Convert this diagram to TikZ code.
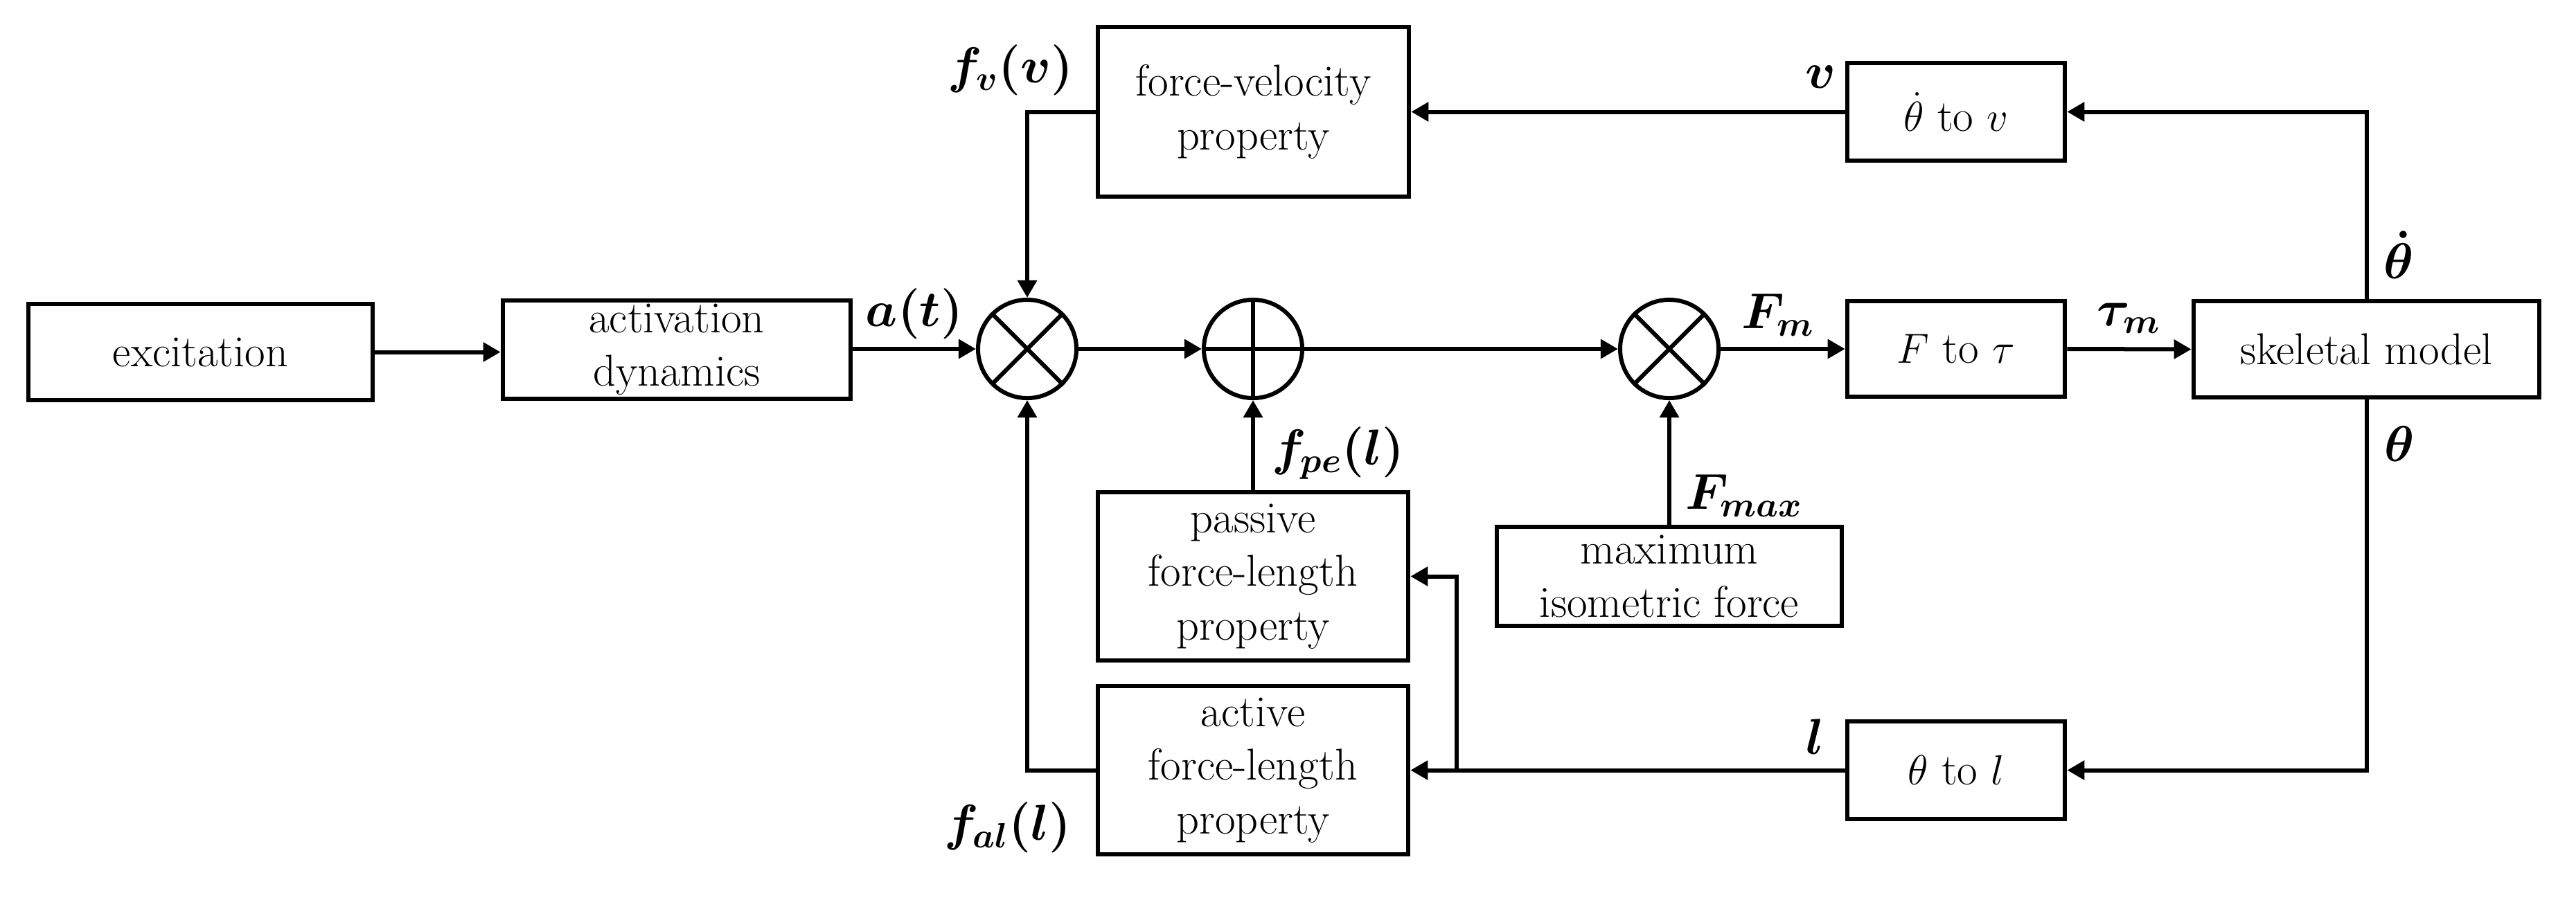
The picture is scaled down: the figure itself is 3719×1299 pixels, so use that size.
\documentclass[tikz,border=0pt]{standalone}
\usetikzlibrary{arrows.meta,calc}
\begin{document}
\begin{tikzpicture}[x=0.01cm,y=-0.01cm,
  line width=0.06cm,
  box/.style={draw,line width=0.065cm,align=center,inner sep=0pt,font=\fontsize{18.3}{22}\selectfont},
  mult/.style={draw,circle,minimum size=1.42cm,inner sep=0pt,line width=0.06cm},
  lab/.style={inner sep=0pt,font=\fontsize{22.5}{26}\selectfont\boldmath},
  arr/.style={-{Triangle[length=0.25cm,width=0.27cm]}}]
\useasboundingbox (0,0) rectangle (3719,1299);

% boxes
\node[box,minimum width=4.97cm,minimum height=1.39cm] (exc) at (289.5,508.5) {excitation};
\node[box,minimum width=5.02cm,minimum height=1.42cm] (act) at (977,505) {activation\\dynamics};
\node[box,minimum width=4.49cm,minimum height=2.45cm] (fv) at (1809.5,161.5) {force-velocity\\property};
\node[box,minimum width=4.48cm,minimum height=2.43cm] (pas) at (1809,832.5) {passive\\force-length\\property};
\node[box,minimum width=4.48cm,minimum height=2.43cm] (acl) at (1809,1112.5) {active\\force-length\\property};
\node[box,minimum width=4.98cm,minimum height=1.43cm] (mif) at (2410,832.5) {maximum\\isometric force};
\node[box,minimum width=3.14cm,minimum height=1.41cm] (thv) at (2824,161.5) {$\dot{\theta}$ to $v$};
\node[box,minimum width=3.14cm,minimum height=1.38cm] (ftau) at (2824,504) {$F$ to $\tau$};
\node[box,minimum width=3.14cm,minimum height=1.41cm] (thl) at (2824,1112.5) {$\theta$ to $l$};
\node[box,minimum width=4.99cm,minimum height=1.39cm] (sk) at (3416.5,504.5) {skeletal model};

% junctions
\node[mult] (c1) at (1483,504) {};
\node[mult] (c2) at (1809,504) {};
\node[mult] (c3) at (2410,504) {};
\draw (c1.45) -- (c1.225) (c1.135) -- (c1.315);
\draw (c2.north) -- (c2.south) (c2.west) -- (c2.east);
\draw (c3.45) -- (c3.225) (c3.135) -- (c3.315);

% connectors
\draw[arr] (exc.east) -- (exc.east -| act.west);
\draw[arr] (act.east |- c1.west) -- (c1.west);
\draw[arr] (c1.east) -- (c2.west);
\draw[arr] (c2.east) -- (c3.west);
\draw[arr] (c3.east) -- (ftau.west);
\draw[arr] (ftau.east) -- (sk.west);
\draw[arr] (sk.north) |- (thv.east);
\draw[arr] (thv.west) -- (fv.east);
\draw[arr] (fv.west) -| (c1.north);
\draw[arr] (sk.south) |- (thl.east);
\draw[arr] (thl.west) -- (acl.east);
\coordinate (br) at (2103,1112.5);
\draw[arr] (br) |- (pas.east);
\draw[arr] (acl.west) -| (c1.south);
\draw[arr] (pas.north) -- (c2.south);
\draw[arr] (mif.north) -- (c3.south);

% labels
\node[lab] (la) at (1320,453) {$a(t)$};
\node[lab] (lfv) at (1459,101) {$f_v(v)$};
\node[lab] (lfpe) at (1932,655) {$f_{pe}(l)$};
\node[lab] (lfal) at (1455,1195) {$f_{al}(l)$};
\node[lab] (lfm) at (2567,455) {$F_m$};
\node[lab] (ltau) at (3073,460) {$\tau_m$};
\node[lab] (lv) at (2628,111) {$v$};
\node[lab] (lthd) at (3463,368) {$\dot{\theta}$};
\node[lab] (lth) at (3464,641) {$\theta$};
\node[lab] (lfmax) at (2518,716) {$F_{max}$};
\node[lab] (ll) at (2620,1064) {$l$};
\end{tikzpicture}
\end{document}
